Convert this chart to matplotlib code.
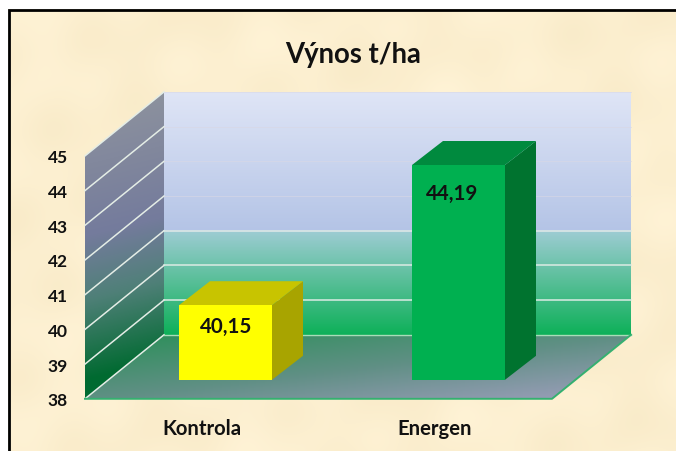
"""
Výnos t/ha - pseudo 3D sloupce
"""
import matplotlib
matplotlib.use('Agg')
import matplotlib.pyplot as plt
import numpy as np
from matplotlib.colors import LinearSegmentedColormap
from matplotlib.patches import Polygon, Rectangle

plt.rcParams['font.family'] = ['Lato', 'DejaVu Sans']

title = 'Výnos t/ha'
categories = ['Kontrola', 'Energen']
values = [40.15, 44.19]
value_labels = ['40,15', '44,19']
y_ticks = [38, 39, 40, 41, 42, 43, 44, 45]
face_colors = ['#FFFF00', '#00B050']
top_colors = ['#C8C400', '#008A3E']
side_colors = ['#A8A400', '#00732F']

# geometrie grafu v pixelech
X0, X1 = 85, 552
Y_BASE = 399.8
UNIT = 34.7
DX, DY = 79, 64
BAR_LEFT = [179, 412]
BAR_W = 93
BAR_DX, BAR_DY = 31, 24
BAR_LIFT = 19
CAT_X = [202, 434.5]
LABEL_OFFSET = [(0.5, 21), (-6, 27.5)]


def vy(v):
    return Y_BASE - (v - y_ticks[0]) * UNIT


def gradient(ax, poly, xy_func, stops, zorder=1):
    """Vyplni polygon gradientem, xy_func vraci pozici 0-1 pro kazdy pixel"""
    pts = np.array(poly)
    x0, x1 = pts[:, 0].min(), pts[:, 0].max()
    y0, y1 = pts[:, 1].min(), pts[:, 1].max()
    xx, yy = np.meshgrid(np.arange(x0, x1 + 1), np.arange(y0, y1 + 1))
    cmap = LinearSegmentedColormap.from_list('g', stops, N=512)
    im = ax.imshow(xy_func(xx, yy), extent=(x0, x1 + 1, y1 + 1, y0), cmap=cmap,
                   vmin=0, vmax=1, aspect='auto', zorder=zorder, interpolation='bilinear')
    patch = Polygon(poly, closed=True, transform=ax.transData, fc='none', ec='none')
    ax.add_patch(patch)
    im.set_clip_path(patch)


fig = plt.figure(figsize=(6.76, 4.52), dpi=100)
ax = fig.add_axes([0, 0, 1, 1])
ax.set_xlim(0, 676)
ax.set_ylim(452, 0)
ax.axis('off')

# pergamenove pozadi
xx, yy = np.meshgrid(np.arange(676), np.arange(452))
mottle = (np.sin(xx / 37.0 + yy / 61.0) + np.sin(xx / 19.0 - yy / 23.0 + 1.3)
          + np.sin(xx / 71.0 + yy / 13.0 + 0.4) + np.sin(xx / 11.0 + yy / 29.0 + 2.1) * 0.6)
paper = np.clip(mottle / 7.2 + 0.5, 0, 1)
paper_cmap = LinearSegmentedColormap.from_list('p', ['#F9EBC9', '#FFF3D6'])
ax.imshow(paper, extent=(0, 676, 452, 0), cmap=paper_cmap, vmin=0, vmax=1, aspect='auto', zorder=0)
ax.set_xlim(0, 676)
ax.set_ylim(452, 0)

# bily okraj a cerny ramecek
ax.add_patch(Rectangle((0, 0), 676, 10, fc='white', ec='none', zorder=0.5))
ax.add_patch(Rectangle((0, 0), 8, 452, fc='white', ec='none', zorder=0.5))
ax.plot([9, 9, 676], [452, 11, 11], color='black', lw=2, zorder=0.6, solid_joinstyle='miter')

y_top, y_bot = vy(y_ticks[-1]), vy(y_ticks[0])

# zadni stena
back = [(X0 + DX, y_top - DY), (X1 + DX, y_top - DY), (X1 + DX, y_bot - DY), (X0 + DX, y_bot - DY)]
gradient(ax, back, lambda x, y: (y - (y_top - DY)) / (y_bot - y_top),
         [(0, '#DFE5F6'), (0.57, '#B4C4E6'), (0.575, '#9CCCD2'), (1, '#0DB058')])

# leva stena
left = [(X0, y_top), (X0 + DX, y_top - DY), (X0 + DX, y_bot - DY), (X0, y_bot)]
gradient(ax, left, lambda x, y: np.clip((y + (x - X0) * DY / DX * 0.3 - (y_top - DY)) / (y_bot - y_top + DY * 0.7), 0, 1),
         [(0, '#90959E'), (0.5, '#747B9C'), (0.72, '#4F8078'), (1, '#006A30')])

# podlaha
floor = [(X0, y_bot), (X1, y_bot), (X1 + DX, y_bot - DY), (X0 + DX, y_bot - DY)]
gradient(ax, floor, lambda x, y: np.clip(((x - X0) / (X1 + DX - X0) + (y - y_bot + DY) / DY) / 2, 0, 1),
         [(0, '#2A8F58'), (0.5, '#5F8F84'), (1, '#A09FBE')])

# mrizka
for v in y_ticks:
    y = vy(v)
    ax.plot([X0, X0 + DX], [y, y - DY], color='#E4EDE6', lw=1.1, zorder=2)
    if v == y_ticks[0]:
        ax.plot([X0 + DX, X1 + DX], [y - DY, y - DY], color='#A8DDB8', lw=1, zorder=2)
    elif v <= 41:
        ax.plot([X0 + DX, X1 + DX], [y - DY, y - DY], color='#DCEBE4', lw=1.1, zorder=2)
    else:
        ax.plot([X0 + DX, X1 + DX], [y - DY, y - DY], color='#D9D8E4', lw=0.7, alpha=0.6, zorder=2)
    ax.text(68, y + 1.5, str(v), ha='right', va='center', fontsize=12.5, fontweight='bold',
            color='#111111', zorder=5)

# hrany podlahy
ax.plot([X0, X1, X1 + DX], [y_bot, y_bot, y_bot - DY], color='#35B070', lw=1.4, zorder=2)

# sloupce
for i, cat in enumerate(categories):
    lx = BAR_LEFT[i]
    rx = lx + BAR_W
    yb = y_bot - BAR_LIFT
    yt = yb - (values[i] - y_ticks[0]) * UNIT
    ax.add_patch(Polygon([(rx, yt), (rx + BAR_DX, yt - BAR_DY), (rx + BAR_DX, yb - BAR_DY), (rx, yb)],
                         fc=side_colors[i], ec='none', zorder=3))
    ax.add_patch(Polygon([(lx, yt), (lx + BAR_DX, yt - BAR_DY), (rx + BAR_DX, yt - BAR_DY), (rx, yt)],
                         fc=top_colors[i], ec='none', zorder=3))
    ax.add_patch(Rectangle((lx, yt), BAR_W, yb - yt, fc=face_colors[i], ec='none', zorder=4))
    off_x, off_y = LABEL_OFFSET[i]
    ax.text(lx + BAR_W / 2 + off_x, yt + off_y, value_labels[i], ha='center', va='center',
            fontsize=14.8, fontweight='bold', color='#111111', zorder=5)
    ax.text(CAT_X[i], 429, cat, ha='center', va='center',
            fontsize=14.6, fontweight='bold', color='#111111', zorder=5)

ax.text(353, 55, title, ha='center', va='center', fontsize=19.8, fontweight='bold', color='#111111', zorder=5)

fig.savefig('out.png', dpi=100)
